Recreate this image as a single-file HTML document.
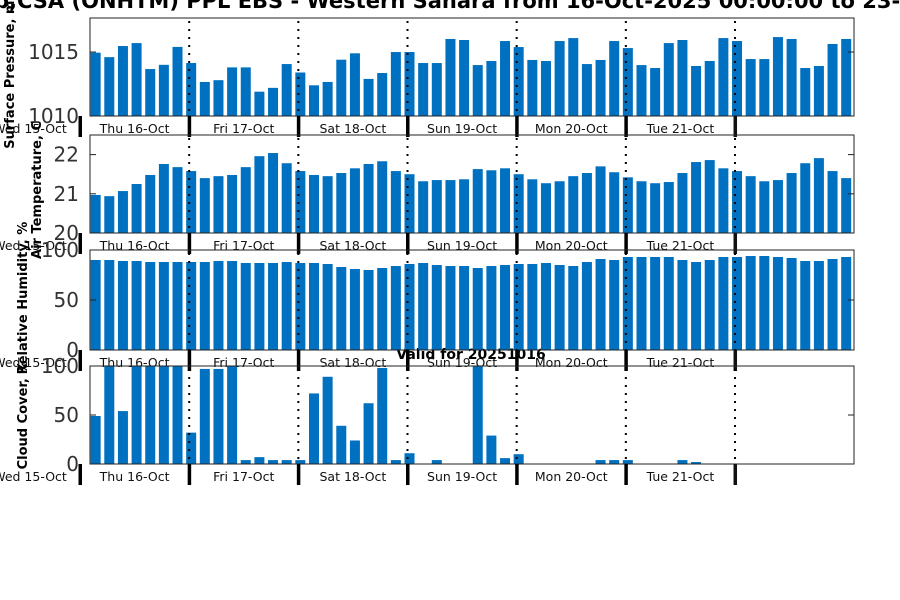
<!DOCTYPE html>
<html><head><meta charset="utf-8"><style>
html,body{margin:0;padding:0;background:#fff;overflow:hidden}
svg{display:block;font-family:"DejaVu Sans","Liberation Sans",sans-serif}
</style></head><body>
<svg id="chart" width="900" height="600" viewBox="0 0 900 600" xmlns="http://www.w3.org/2000/svg">
<text x="-6" y="8" font-size="21" font-weight="bold" fill="#000">p,CSA (ONHTM) PPL EBS  - Western Sahara from 16-Oct-2025 00:00:00 to 23-Oct-2025 00:00:00</text>
<text x="471" y="359" font-size="14" font-weight="bold" text-anchor="middle">Valid for 20251016</text>
<g id="panels"></g>
</svg>
<script>
const dayLabels = ["Wed 15-Oct","Thu 16-Oct","Fri 17-Oct","Sat 18-Oct","Sun 19-Oct","Mon 20-Oct","Tue 21-Oct"];
const hours = []; for (let h = 3; h <= 168; h += 3) hours.push(h);
const pressure = [1014.95,1014.6,1015.47,1015.7,1013.67,1014.0,1015.4,1014.14,1012.66,1012.8,1013.8,1013.8,1011.9,1012.2,1014.06,1013.4,1012.4,1012.66,1014.4,1014.9,1012.9,1013.36,1015.0,1015.0,1014.14,1014.14,
1016.02,1015.94,1013.98,1014.3,1015.86,1015.39,1014.38,1014.3,1015.86,1016.09,1014.06,1014.38,1015.86,1015.31,1013.98,1013.75,1015.7,1015.94,1013.91,1014.3,1016.09,1015.86,1014.45,1014.45,1016.17,1016.02,1013.75,1013.91,1015.63,1016.02];
const temperature = [20.97,20.94,21.07,21.25,21.48,21.76,21.68,21.58,21.40,21.45,21.48,21.68,21.96,22.04,21.78,21.58,21.48,21.45,21.53,21.65,21.76,21.83,21.58,21.50,21.32,21.35,
21.35,21.37,21.63,21.60,21.65,21.50,21.37,21.27,21.32,21.45,21.53,21.70,21.55,21.42,21.32,21.27,21.30,21.53,21.81,21.86,21.65,21.58,21.45,21.32,21.35,21.53,21.78,21.91,21.58,21.40];
const humidity = [90,90,89,89,88,88,88,88,88,89,89,87,87,87,88,87,87,86,83,81,80,82,84,86,87,85,
84,84,82,84,85,86,86,87,85,84,88,91,90,93,93,93,93,90,88,90,93,93,94,94,93,92,89,89,91,93];
const cloud = [49,100,54,100,100,100,100,32,97,97,100,4,7,4,4,4,72,89,39,24,62,98,4,11,0,4,
0,0,100,29,6,10,0,0,0,0,0,4,4,4,0,0,0,4,2,0,0,0,0,0,0,0,0,0,0,0];

const panels = [
  {name:"pressure", data:pressure, top:18, bot:116, min:1010, max:1017.66, ticks:[1010,1015], label:"Surface Pressure, mb", lx:14, ly:70},
  {name:"temperature", data:temperature, top:135, bot:233, min:20, max:22.5, ticks:[20,21,22], label:"Air Temperature, C", lx:41, ly:190},
  {name:"humidity", data:humidity, top:250, bot:350, min:0, max:100, ticks:[0,50,100], label:"Relative Humidity, %", lx:27, ly:298},
  {name:"cloud-cover", data:cloud, top:366, bot:464, min:0, max:100, ticks:[0,50,100], label:"Cloud Cover, %", lx:27, ly:415}
];
const NS = "http://www.w3.org/2000/svg";
const L = 90, R = 854;
function xOf(h){ return 80 + h * 109.17 / 24; }
function mk(tag, attrs, parent){ const e = document.createElementNS(NS, tag); for (const k in attrs) e.setAttribute(k, attrs[k]); parent.appendChild(e); return e; }
const root = document.getElementById("panels");
panels.forEach(p => {
  const g = mk("g", {}, root);
  
  
  const yOf = v => p.bot - (v - p.min) / (p.max - p.min) * (p.bot - p.top);
  p.data.forEach((v, i) => {
    const y = Math.max(p.top, yOf(v));
    const b = mk("rect", {x: xOf(hours[i]) - 3, y: y, width: 10, height: Math.max(0, p.bot - y), fill: "#0070c0"}, g);
    
    
  });
  for (let d = 1; d <= 6; d++) {
    const x = xOf(d * 24);
    const dl = mk("line", {x1: x, x2: x, y1: p.top + 3, y2: p.bot, stroke: "#000", "stroke-width": 2, "stroke-dasharray": "2,6"}, g);
    
    
  }
  const fr = mk("rect", {x: L, y: p.top, width: R - L, height: p.bot - p.top, fill: "none", stroke: "#222", "stroke-width": 1}, g);
  
  
  p.ticks.forEach(t => {
    const y = yOf(t);
    mk("line", {x1: L, x2: L + 6, y1: y, y2: y, stroke: "#222"}, g);
    mk("line", {x1: R - 6, x2: R, y1: y, y2: y, stroke: "#222"}, g);
    const tl = mk("text", {x: 79, y: y + 7, "font-size": 20, fill: "#333", "text-anchor": "end"}, g);
    tl.textContent = t;
    
    
  });
  for (let d = 0; d <= 6; d++) {
    const x = d === 0 ? 80 : xOf(d * 24);
    const tk = mk("rect", {x: x - 1.5, y: p.bot, width: 3.5, height: 21, fill: d === 6 ? "#111" : "#000"}, g);
    
    
  }
  dayLabels.forEach((lab, i) => {
    const cx = i === 0 ? 30 : xOf((i - 1) * 24 + 12);
    const t = mk("text", {x: cx, y: p.bot + 17, "font-size": 12.5, "text-anchor": "middle", fill: "#111"}, g);
    t.textContent = lab;
    
    
  });
  const yl = mk("text", {x: p.lx, y: p.ly, "font-size": 13, "font-weight": "bold", "text-anchor": "middle", transform: `rotate(-90 ${p.lx} ${p.ly})`}, g);
  yl.textContent = p.label;
  
  
});
</script>
</body></html>
